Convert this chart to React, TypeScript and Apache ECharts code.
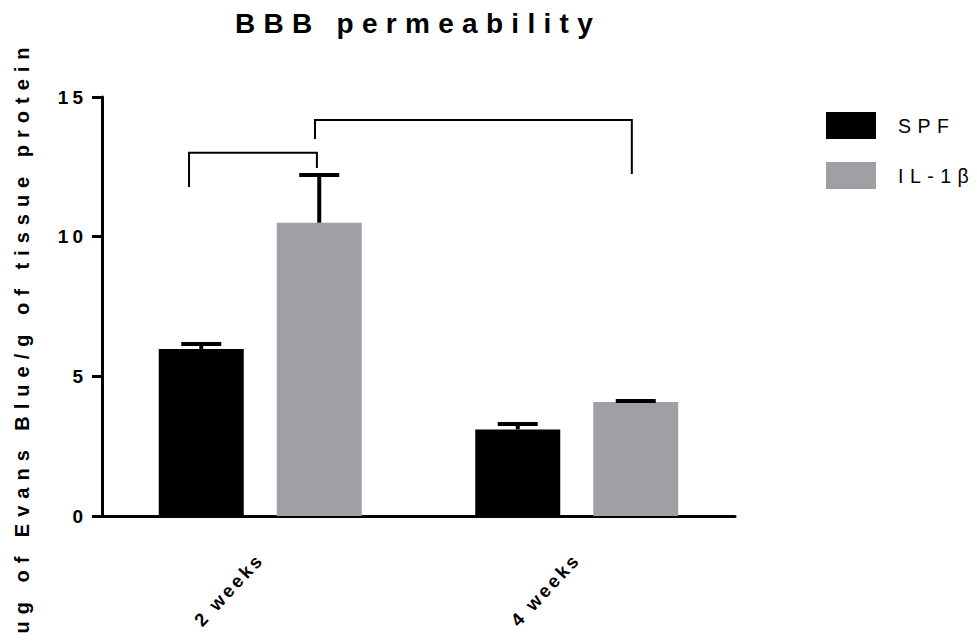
import React, { useEffect, useRef } from 'react';
import * as echarts from 'echarts';

// ---- data ----
const categories = ['2 weeks', '4 weeks'];
const seriesNames = ['SPF', 'IL-1β'];
const spfMeans = [5.98, 3.1];
const spfUpper = [6.16, 3.29];
const il1bMeans = [10.5, 4.08];
const il1bUpper = [12.21, 4.12];
const yMin = 0;
const yMax = 15;
const yInterval = 5;
// significance brackets, x in group units (0 = first group centre, 1 = second)
const bracketLeftX = [-0.225, 0.173];
const bracketRightX = [0.179, 1.174];
const bracketTop = [13.0, 14.18];
const bracketLeftEnd = [11.78, 13.5];
const bracketRightEnd = [12.46, 12.24];

const FONT = '"Liberation Sans", Arial, sans-serif';
const BAR_W = 85;
const BAR_GAP_PX = 33;
const CAP_HALF = 20;

const css = `
text[style*="28px"]{letter-spacing:8.3px}
text[style*="20px"]{letter-spacing:7px}
text[style*="19px"]{letter-spacing:4px}
text[style*="18.5px"]{letter-spacing:3px}
text[style*="19.5px"]{letter-spacing:6.5px}
`;

function errorSeries(name: string, means: number[], upper: number[], side: number) {
  const offset = (side * (BAR_W + BAR_GAP_PX)) / 2;
  return {
    type: 'custom',
    name: name + ' error',
    z: 5,
    data: means.map((m, i) => [i, m, upper[i]]),
    encode: { x: 0, y: [1, 2] },
    renderItem: (_p: any, api: any) => {
      const c = api.value(0);
      const p0 = api.coord([c, api.value(1)]);
      const p1 = api.coord([c, api.value(2)]);
      const x = p0[0] + offset;
      return {
        type: 'group',
        children: [
          { type: 'line', shape: { x1: x, y1: p0[1], x2: x, y2: p1[1] }, style: { stroke: '#000', lineWidth: 4 } },
          { type: 'line', shape: { x1: x - CAP_HALF, y1: p1[1], x2: x + CAP_HALF, y2: p1[1] }, style: { stroke: '#000', lineWidth: 4 } },
        ],
      };
    },
  };
}

export default function App() {
  const ref = useRef<HTMLDivElement>(null);
  useEffect(() => {
    document.body.style.margin = '0';
    const chart = echarts.init(ref.current!, null, { renderer: 'svg' });
    chart.setOption({
      animation: false,
      backgroundColor: '#fff',
      title: {
        text: 'BBB permeability',
        left: 418,
        top: 9,
        textAlign: 'center',
        padding: 0,
        textStyle: { fontSize: 28, fontWeight: 'bold', fontFamily: FONT, color: '#000' },
      },
      legend: {
        data: seriesNames,
        orient: 'vertical',
        left: 826,
        top: 112,
        padding: 0,
        itemWidth: 50,
        itemHeight: 27,
        itemGap: 23,
        icon: 'rect',
        textStyle: { fontSize: 19.5, fontFamily: FONT, color: '#000', padding: [0, 0, 0, 17] },
      },
      grid: { left: 102, right: 242, top: 97, bottom: 127 },
      xAxis: [
        {
          type: 'category',
          data: categories,
          axisLine: { onZero: false, lineStyle: { color: '#000', width: 3 } },
          axisTick: { alignWithLabel: true, length: 12, lineStyle: { color: '#000', width: 3 } },
          axisLabel: { rotate: 47, margin: 40, fontSize: 18.5, fontWeight: 'bold', fontFamily: FONT, color: '#000' },
        },
        { type: 'value', min: -0.5, max: 1.5, show: false },
      ],
      yAxis: {
        type: 'value',
        min: yMin,
        max: yMax,
        interval: yInterval,
        splitLine: { show: false },
        axisLine: { show: true, onZero: false, lineStyle: { color: '#000', width: 3 } },
        axisTick: { show: true, length: 10, lineStyle: { color: '#000', width: 3 } },
        axisLabel: { margin: 15, fontSize: 19, fontWeight: 'bold', fontFamily: FONT, color: '#000' },
      },
      graphic: [
        {
          type: 'text',
          x: 22,
          y: 337,
          rotation: Math.PI / 2,
          style: {
            text: 'ug of Evans Blue/g of tissue protein',
            font: 'bold 20px "Liberation Sans", Arial, sans-serif',
            fill: '#000',
            align: 'center',
            verticalAlign: 'middle',
          },
        },
      ],
      series: [
        { type: 'bar', name: seriesNames[0], data: spfMeans, barWidth: BAR_W, barGap: (BAR_GAP_PX / BAR_W) * 100 + '%', itemStyle: { color: '#000' } },
        { type: 'bar', name: seriesNames[1], data: il1bMeans, barWidth: BAR_W, itemStyle: { color: '#a09fa4' } },
        errorSeries(seriesNames[0], spfMeans, spfUpper, -1),
        errorSeries(seriesNames[1], il1bMeans, il1bUpper, 1),
        {
          type: 'custom',
          name: 'brackets',
          xAxisIndex: 1,
          yAxisIndex: 0,
          data: bracketTop.map((t, i) => [bracketLeftX[i], t, bracketRightX[i], bracketLeftEnd[i], bracketRightEnd[i]]),
          encode: { x: [0, 2], y: [1, 3, 4] },
          renderItem: (_p: any, api: any) => {
            const a = api.coord([api.value(0), api.value(3)]);
            const b = api.coord([api.value(0), api.value(1)]);
            const c = api.coord([api.value(2), api.value(1)]);
            const d = api.coord([api.value(2), api.value(4)]);
            return {
              type: 'polyline',
              shape: { points: [a, b, c, d] },
              style: { stroke: '#000', lineWidth: 2, fill: null },
            };
          },
        },
      ],
    });
    return () => chart.dispose();
  }, []);
  return (
    <>
      <style>{css}</style>
      <div ref={ref} style={{ width: 977, height: 643 }} />
    </>
  );
}
